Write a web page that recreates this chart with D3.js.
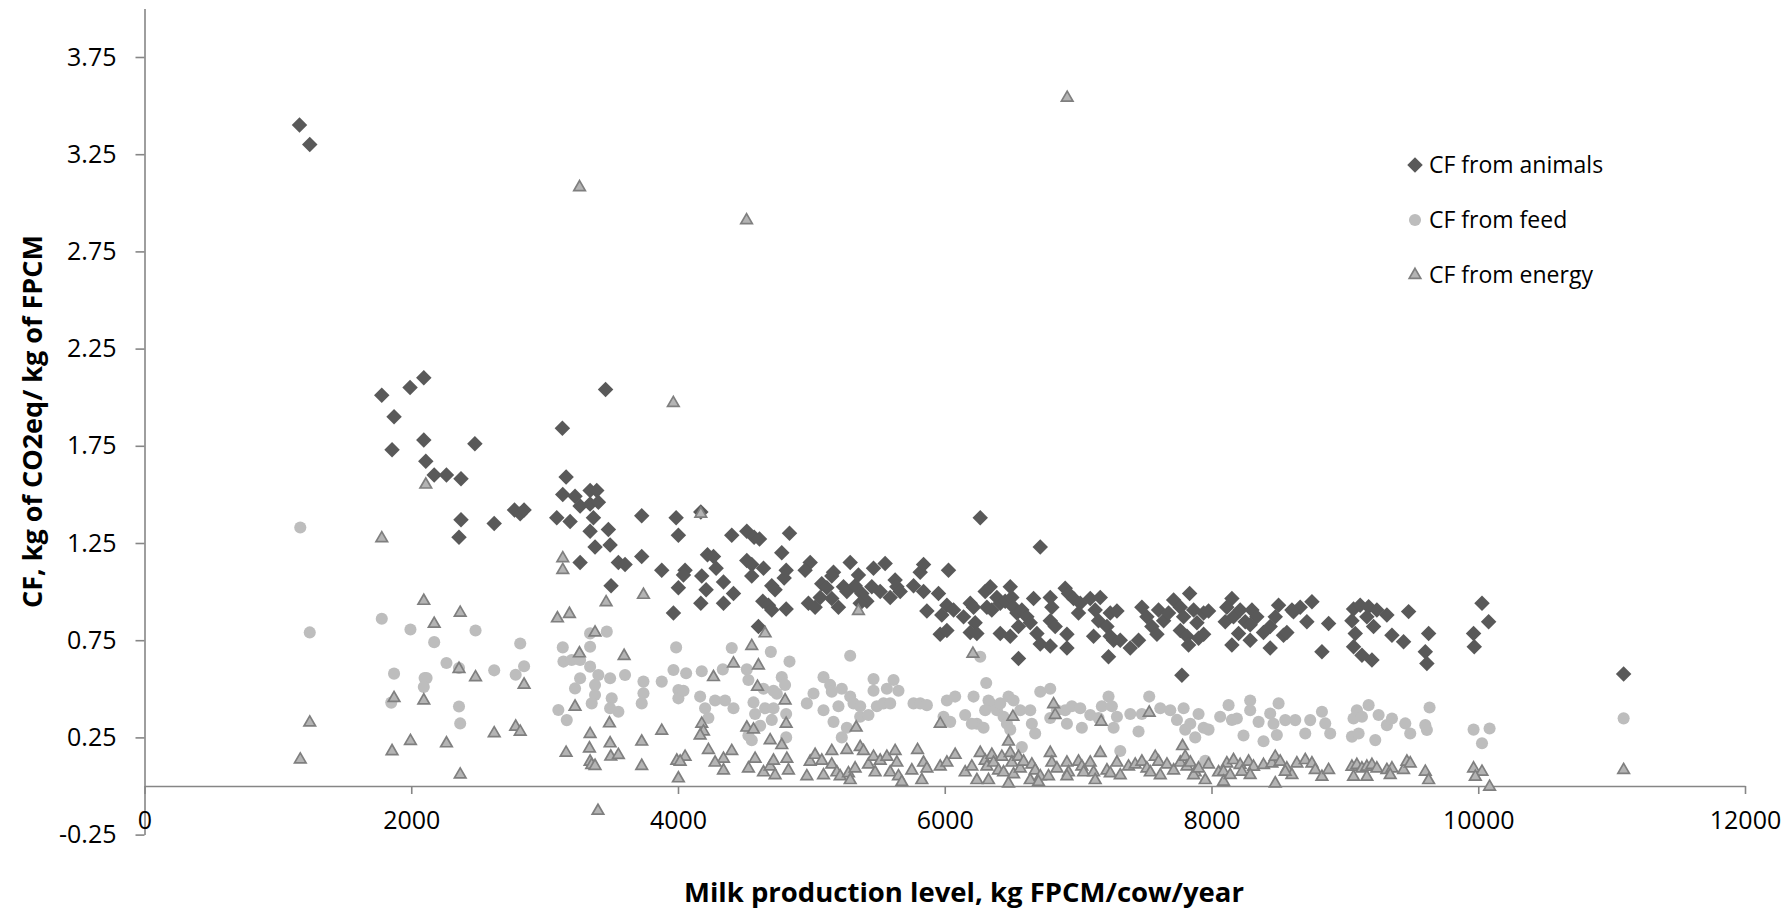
<!DOCTYPE html>
<html>
<head>
<meta charset="utf-8">
<script src="https://cdn.jsdelivr.net/npm/d3@7/dist/d3.min.js"></script>
<style>
  html, body { margin: 0; padding: 0; background: #fff; }
  svg { display: block; font-family: "Open Sans", "Noto Sans", sans-serif; }
</style>
</head>
<body>
<svg id="chart" width="1789" height="910"></svg>
<script>
// ---------- DATA ----------
const seriesNames = ["CF from animals", "CF from feed", "CF from energy"];
const xTicks = [0, 2000, 4000, 6000, 8000, 10000, 12000];
const yTicks = [-0.25, 0.25, 0.75, 1.25, 1.75, 2.25, 2.75, 3.25, 3.75];
const xTitle = "Milk production level, kg FPCM/cow/year";
const yTitle = "CF, kg of CO2eq/ kg of FPCM";

// [milk production, CF] pairs
const animals = [
[1162,3.40],[1239,3.30],[1779,2.01],[1991,2.05],[2094,2.10],[1871,1.90],[2094,1.78],[2477,1.76],[3133,1.84],[3457,2.04],
[1856,1.73],[2109,1.67],[2172,1.60],[2264,1.60],[2373,1.58],[2373,1.37],[2358,1.28],[2622,1.35],[2774,1.42],[2817,1.40],[2846,1.42],
[3161,1.59],[3136,1.50],[3228,1.49],[3341,1.52],[3391,1.52],[3266,1.44],[3341,1.45],[3403,1.46],[3091,1.38],[3191,1.36],[3366,1.38],
[3341,1.31],[3478,1.32],[3378,1.23],[3491,1.24],[3266,1.15],[3553,1.15],[3603,1.14],[3728,1.39],[3728,1.18],[3498,1.03],[3878,1.11],
[3986,1.38],[4003,1.29],[4003,1.02],[3966,0.89],
[4171,1.41],[4403,1.29],[4516,1.31],[4571,1.28],[4611,1.27],[4836,1.30],[4221,1.19],[4266,1.18],[4778,1.20],[4053,1.11],[4041,1.085],
[4178,1.08],[4286,1.12],[4341,1.05],[4211,1.01],[4416,0.99],[4171,0.94],[4341,0.94],[4516,1.16],[4553,1.14],[4641,1.12],[4553,1.08],
[4811,1.11],[4796,1.07],[4703,1.03],[4728,1.01],[4636,0.95],[4678,0.93],[4703,0.905],[4811,0.91],[4603,0.82],[4991,1.15],[4953,1.11],
[4978,0.94],[5028,0.92],[5078,1.04],[5116,1.02],[5166,1.10],[5153,1.08],[5066,0.97],[5153,0.965],[5203,0.92],[5241,1.025],[5266,1.00],
[5291,1.15],[5328,1.03],[5353,1.085],[5378,0.99],[5416,0.95],[5366,0.94],[5466,1.12],[5453,1.025],[5516,1.00],[5553,1.145],[5591,0.97],
[5628,1.06],[5641,1.025],[5666,1.00],[5766,1.03],[5816,1.10],[5841,1.14],[5841,1.00],[5953,0.99],[6028,1.11],[5866,0.90],[5978,0.88],
[6016,0.93],[5966,0.78],[6016,0.80],
[6266,1.38],[6716,1.23],[6066,0.905],[6141,0.87],[6191,0.94],[6216,0.92],[6228,0.84],[6191,0.79],[6241,0.785],[6303,1.00],[6341,1.025],
[6316,0.92],[6353,0.905],[6391,0.97],[6416,0.94],[6453,0.95],[6491,1.025],[6503,0.97],[6516,0.92],[6541,0.89],[6578,0.905],[6616,0.87],
[6666,0.965],[6641,0.84],[6491,0.77],[6553,0.82],[6416,0.785],[6553,0.656],[6691,0.785],[6716,0.73],[6791,0.72],[6791,0.97],[6803,0.92],
[6791,0.85],[6828,0.82],[6903,1.017],[6928,0.99],[6966,0.965],[7016,0.94],[7003,0.89],[6916,0.78],[6916,0.71],[7091,0.965],[7166,0.97],
[7128,0.905],[7153,0.85],[7116,0.77],[7216,0.82],[7241,0.89],[7291,0.90],[7241,0.77],[7266,0.75],[7228,0.665],[7316,0.75],[7391,0.71],
[7453,0.75],[7478,0.92],[7516,0.87],[7603,0.905],[7553,0.82],[7591,0.78],[7641,0.85],[7678,0.89],[7716,0.957],[7766,0.92],[7791,0.87],
[7766,0.80],[7816,0.77],[7828,0.725],[7836,0.99],[7866,0.905],[7891,0.84],[7941,0.89],[7978,0.90],[7941,0.78],[7903,0.76],[7778,0.57],
[8153,0.965],[8115,0.92],[8103,0.845],[8165,0.87],[8215,0.905],[8253,0.845],[8303,0.905],[8340,0.87],[8290,0.83],[8203,0.785],[8153,0.725],
[8290,0.75],[8390,0.79],[8440,0.82],[8478,0.87],[8503,0.93],[8540,0.775],[8565,0.79],[8440,0.71],[8615,0.896],[8665,0.92],[8715,0.845],
[8753,0.948],[8603,0.905],[8828,0.69],[8878,0.836],[9065,0.91],[9053,0.85],[9115,0.93],[9178,0.922],[9165,0.87],[9215,0.82],[9240,0.905],
[9315,0.88],[9078,0.785],[9065,0.716],[9128,0.673],[9203,0.648],[9353,0.776],[9440,0.742],[9478,0.897],[9628,0.785],[9603,0.69],[9615,0.63],
[10028,0.94],[10078,0.845],[9965,0.785],[9970,0.716],[11090,0.576]
];

const feed = [
[1168,1.33],[1239,0.79],[1779,0.86],[1994,0.805],[1871,0.578],[1850,0.429],[2172,0.74],[2100,0.555],[2115,0.555],[2094,0.509],[2264,0.633],
[2358,0.607],[2358,0.409],[2367,0.322],[2482,0.80],[2622,0.595],[2817,0.733],[2783,0.572],[2846,0.616],
[3341,0.785],[3466,0.794],[3136,0.713],[3341,0.716],[3141,0.64],[3203,0.648],[3266,0.648],[3341,0.614],[3266,0.554],[3228,0.502],[3403,0.571],
[3378,0.52],[3378,0.468],[3353,0.425],[3103,0.391],[3166,0.339],[3491,0.554],[3503,0.451],[3491,0.40],[3553,0.382],[3603,0.571],[3741,0.537],
[3741,0.477],[3728,0.425],[3878,0.537],[3986,0.713],[3966,0.597],[4003,0.494],[4003,0.451],
[4403,0.71],[4696,0.69],[4836,0.64],[4061,0.58],[4178,0.59],[4336,0.60],[4516,0.60],[4528,0.545],[4778,0.56],[4803,0.52],[4041,0.49],
[4166,0.46],[4278,0.44],[4353,0.44],[4416,0.40],[4641,0.50],[4716,0.49],[4741,0.475],[4203,0.40],[4228,0.35],[4566,0.43],[4578,0.37],
[4653,0.40],[4716,0.40],[4703,0.34],[4616,0.31],[4528,0.26],[4553,0.235],[4811,0.37],[4811,0.25],[4966,0.425],[5016,0.476],[5091,0.56],
[5141,0.52],[5153,0.485],[5228,0.50],[5291,0.46],[5316,0.425],[5366,0.41],[5366,0.356],[5428,0.365],[5491,0.41],[5541,0.425],[5591,0.425],
[5616,0.545],[5653,0.49],[5466,0.55],[5466,0.49],[5566,0.50],[5766,0.425],[5816,0.425],[5866,0.416],[5991,0.356],[6016,0.44],[5091,0.39],
[5203,0.41],[5166,0.33],[5266,0.30],[5228,0.25],[5291,0.67],
[6266,0.665],[6311,0.53],[6078,0.46],[6216,0.46],[6328,0.44],[6341,0.425],[6303,0.39],[6153,0.365],[6041,0.33],[6241,0.32],[6291,0.30],
[6203,0.32],[6391,0.39],[6416,0.425],[6478,0.46],[6516,0.44],[6441,0.356],[6466,0.32],[6491,0.29],[6566,0.39],[6578,0.20],[6641,0.39],
[6653,0.32],[6678,0.27],[6716,0.485],[6791,0.50],[6791,0.35],[6841,0.39],[6903,0.39],[6953,0.41],[7016,0.40],[6916,0.32],[7028,0.30],
[7091,0.365],[7153,0.35],[7178,0.41],[7228,0.46],[7253,0.41],[7291,0.356],[7266,0.30],[7316,0.18],[7391,0.37],[7453,0.28],[7478,0.37],
[7533,0.46],[7616,0.40],[7691,0.39],[7741,0.34],[7791,0.40],[7803,0.29],[7841,0.32],[7878,0.25],[7903,0.37],[7941,0.30],[7978,0.29],[7953,0.13],
[8128,0.416],[8065,0.356],[8153,0.34],[8190,0.347],[8240,0.26],[8290,0.44],[8290,0.39],[8353,0.33],[8390,0.23],[8440,0.373],[8465,0.32],
[8503,0.425],[8490,0.262],[8553,0.339],[8628,0.339],[8703,0.27],[8740,0.339],[8828,0.382],[8853,0.322],[8890,0.27],[9065,0.347],[9090,0.39],
[9128,0.356],[9178,0.416],[9253,0.365],[9053,0.254],[9103,0.27],[9228,0.236],[9315,0.313],[9353,0.347],[9453,0.322],[9490,0.27],[9603,0.313],
[9615,0.288],[9635,0.404],[9965,0.29],[10085,0.296],[10028,0.22],[11090,0.348]
];

const energy = [
[6918,3.54],[3262,3.08],[4514,2.91],[3965,1.97],
[1168,0.136],[1239,0.326],[1779,1.274],[1856,0.179],[1871,0.452],[1994,0.231],[2094,0.952],[2094,0.44],[2109,1.55],[2172,0.834],[2264,0.219],
[2367,0.891],[2358,0.602],[2367,0.059],[2482,0.559],[2622,0.271],[2783,0.305],[2817,0.279],[2846,0.521],
[3136,1.171],[3136,1.111],[3741,0.983],[3461,0.945],[3096,0.862],[3186,0.885],[3378,0.789],[3261,0.682],[3596,0.669],[3228,0.408],[3486,0.322],
[3878,0.284],[3341,0.267],[3491,0.219],[3336,0.193],[3496,0.151],[3553,0.159],[3161,0.171],[3341,0.125],[3353,0.108],[3378,0.103],[3728,0.228],
[3728,0.103],[3991,0.13],[4003,0.039],[3400,-0.128],
[4171,1.40],[4653,0.785],[5353,0.90],[4553,0.72],[4416,0.63],[4603,0.62],[4266,0.56],[4596,0.51],[4803,0.44],[4811,0.32],[4178,0.32],
[4191,0.28],[4166,0.26],[4516,0.30],[4566,0.29],[4691,0.235],[4778,0.21],[5336,0.30],[5966,0.32],[4053,0.15],[4016,0.125],[4228,0.185],
[4341,0.14],[4278,0.12],[4341,0.08],[4403,0.18],[4578,0.14],[4528,0.09],[4641,0.07],[4691,0.10],[4728,0.055],[4716,0.13],[4816,0.14],
[4828,0.08],[4966,0.05],[4991,0.125],[5028,0.16],[5078,0.13],[5091,0.055],[5153,0.11],[5153,0.18],[5191,0.07],[5216,0.05],[5278,0.065],
[5291,0.03],[5266,0.185],[5328,0.09],[5366,0.20],[5391,0.18],[5428,0.11],[5466,0.15],[5478,0.07],[5516,0.13],[5566,0.15],[5591,0.07],
[5628,0.18],[5641,0.12],[5653,0.05],[5678,0.02],[5753,0.08],[5796,0.185],[5841,0.12],[5866,0.09],[5828,0.03],[5966,0.10],[6016,0.12],
[6211,0.68],[6511,0.356],[6816,0.42],[6828,0.365],[7173,0.33],[7533,0.377],[6478,0.228],[7783,0.205],[6078,0.16],[6153,0.07],[6203,0.10],
[6241,0.03],[6266,0.17],[6303,0.13],[6353,0.16],[6316,0.10],[6366,0.12],[6403,0.08],[6328,0.03],[6428,0.15],[6441,0.07],[6491,0.17],
[6503,0.12],[6516,0.06],[6478,0.013],[6553,0.15],[6566,0.09],[6591,0.125],[6653,0.11],[6678,0.08],[6641,0.03],[6716,0.05],[6703,0.02],
[6791,0.17],[6803,0.12],[6778,0.05],[6841,0.09],[6916,0.12],[6928,0.07],[6916,0.05],[7003,0.125],[7028,0.10],[7041,0.07],[7091,0.12],
[7116,0.07],[7128,0.03],[7166,0.17],[7216,0.08],[7241,0.065],[7291,0.12],[7316,0.055],[7378,0.10],[7428,0.11],[7478,0.125],[7516,0.09],
[7541,0.07],[7578,0.15],[7603,0.125],[7616,0.055],[7666,0.11],[7716,0.08],[7766,0.12],[7803,0.15],[7816,0.10],[7841,0.12],[7878,0.07],
[7866,0.055],[7903,0.09],[7953,0.03],[7978,0.11],[8053,0.07],
[8115,0.116],[8165,0.133],[8215,0.108],[8278,0.125],[8315,0.099],[8390,0.108],[8453,0.116],[8478,0.15],[8515,0.125],[8565,0.09],[8603,0.056],
[8640,0.116],[8703,0.133],[8753,0.116],[8778,0.082],[8828,0.047],[8878,0.082],[8090,0.073],[8090,0.022],[8140,0.056],[8228,0.073],[8290,0.056],
[8478,0.013],[8553,0.073],[9053,0.099],[9090,0.108],[9128,0.09],[9165,0.099],[9203,0.108],[9240,0.09],[9315,0.082],[9353,0.09],[9065,0.047],
[9165,0.047],[9340,0.056],[9440,0.082],[9465,0.125],[9490,0.116],[9603,0.073],[9628,0.03],[9965,0.09],[10028,0.073],[9978,0.047],[10085,-0.004],
[11090,0.082]
];

// ---------- STYLES ----------
const axisColor = "#868686";
const styles = [
  { fill: "#595959", stroke: "none", sw: 0, type: d3.symbolSquare, size: 120, rot: 45 },
  { fill: "#bdbdbd", stroke: "none", sw: 0, type: d3.symbolCircle, size: 115, rot: 0 },
  { fill: "#b4b4b4", stroke: "#7f7f7f", sw: 1.7, type: d3.symbolTriangle, size: 58, rot: 0 }
];

// ---------- CHART ----------
const svg = d3.select("#chart");
const x = d3.scaleLinear().domain([0, 12000]).range([144.5, 1745]);
const y = d3.scaleLinear().domain([-0.25, 4.0]).range([834.6, 8.4]);

// y axis
const yAxis = svg.append("g")
  .attr("transform", `translate(${x(0)},0)`)
  .call(d3.axisLeft(y).tickValues(yTicks).tickSize(9).tickSizeOuter(0).tickPadding(19)
        .tickFormat(d => d.toFixed(2)));
yAxis.select(".domain").attr("stroke", axisColor).attr("stroke-width", 1.6);
yAxis.selectAll(".tick line").attr("stroke", axisColor).attr("stroke-width", 1.6);
yAxis.selectAll(".tick text").attr("fill", "#000").style("font-size", "25px")
  .style("font-family", "'Open Sans', sans-serif");

// x axis at y = 0
const xAxis = svg.append("g")
  .attr("transform", `translate(0,${y(0)})`)
  .call(d3.axisBottom(x).tickValues(xTicks).tickSize(8).tickSizeOuter(0).tickPadding(17)
        .tickFormat(d3.format("d")));
xAxis.select(".domain").attr("stroke", axisColor).attr("stroke-width", 1.6);
xAxis.selectAll(".tick line").attr("stroke", axisColor).attr("stroke-width", 1.6);
xAxis.selectAll(".tick text").attr("fill", "#000").style("font-size", "25px")
  .style("font-family", "'Open Sans', sans-serif");

// series
const allSeries = [animals, feed, energy];
allSeries.forEach((data, i) => {
  const st = styles[i];
  const sym = d3.symbol().type(st.type).size(st.size);
  svg.append("g").selectAll("path").data(data).join("path")
    .attr("d", sym)
    .attr("transform", d => `translate(${x(d[0])},${y(d[1])}) rotate(${st.rot})`)
    .attr("fill", st.fill)
    .attr("stroke", st.stroke)
    .attr("stroke-width", st.sw);
});

// titles
svg.append("text")
  .attr("transform", `translate(33,${(y(4.0) + y(-0.25)) / 2}) rotate(-90)`)
  .attr("text-anchor", "middle").attr("dy", "0.35em")
  .style("font-size", "27px").style("font-weight", "bold").attr("fill", "#000")
  .text(yTitle);

svg.append("text")
  .attr("x", 964).attr("y", 892)
  .attr("text-anchor", "middle").attr("dy", "0.35em")
  .style("font-size", "27.5px").style("font-weight", "bold").attr("fill", "#000")
  .text(xTitle);

// legend
const legY = [165, 220, 275];
const leg = svg.append("g");
seriesNames.forEach((name, i) => {
  const st = styles[i];
  leg.append("path")
    .attr("d", d3.symbol().type(st.type).size(st.size)())
    .attr("transform", `translate(1415,${legY[i]}) rotate(${st.rot})`)
    .attr("fill", st.fill).attr("stroke", st.stroke).attr("stroke-width", st.sw);
  leg.append("text")
    .attr("x", 1429).attr("y", legY[i]).attr("dy", "0.35em")
    .style("font-size", "23px").attr("fill", "#000")
    .text(name);
});
</script>
</body>
</html>
